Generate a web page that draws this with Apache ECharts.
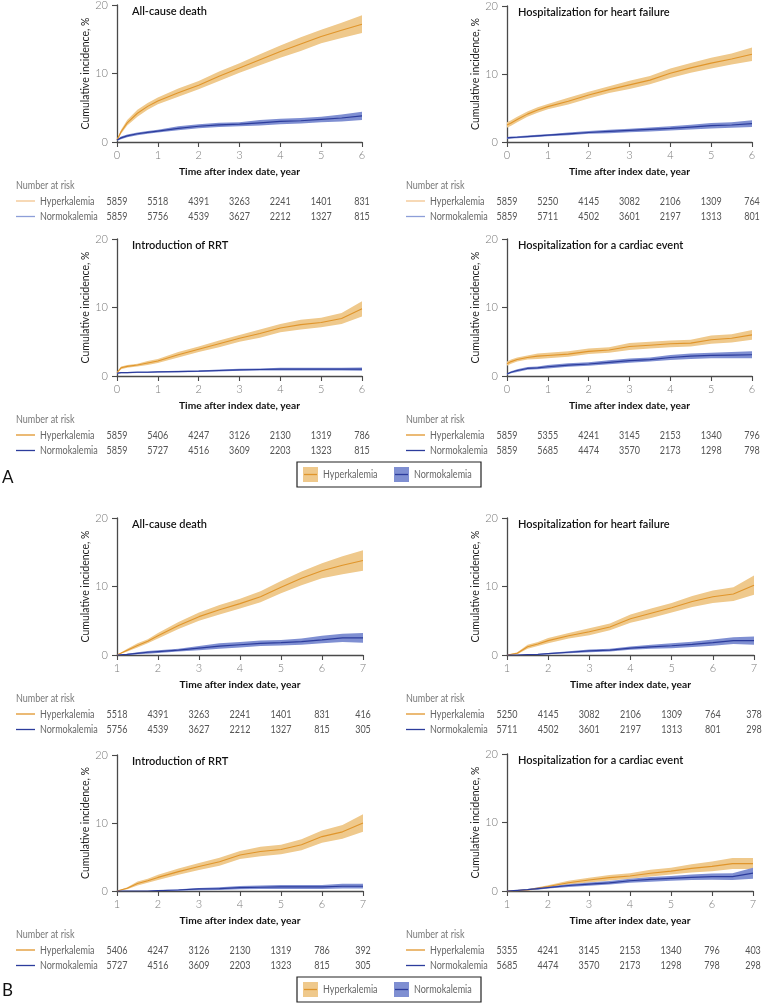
<!DOCTYPE html>
<html><head><meta charset="utf-8">
<script src="https://cdn.jsdelivr.net/npm/echarts@6/dist/echarts.min.js"></script>
<style>html,body{margin:0;padding:0;background:#fff}#c{width:763px;height:1003px}</style>
</head><body><div id="c"></div>
<script>
// ---------- DATA ----------
const groupNames = ['Hyperkalemia', 'Normokalemia'];
const panelTitles = ['All-cause death', 'Hospitalization for heart failure', 'Introduction of RRT', 'Hospitalization for a cardiac event'];
const ticksA = [0, 1, 2, 3, 4, 5, 6];
const ticksB = [1, 2, 3, 4, 5, 6, 7];
const timesA = [0, 0.1, 0.25, 0.5, 0.75, 1, 1.5, 2, 2.5, 3, 3.5, 4, 4.5, 5, 5.5, 6];
const timesB = [1, 1.25, 1.5, 1.75, 2, 2.5, 3, 3.5, 4, 4.5, 5, 5.5, 6, 6.5, 7];

// Panel A1: All-cause death
const a1HyperEst = [0.3, 1.5, 2.8, 4.2, 5.2, 6.0, 7.2, 8.3, 9.6, 10.8, 12.0, 13.2, 14.3, 15.4, 16.3, 17.2];
const a1HyperLo  = [0.2, 1.2, 2.4, 3.7, 4.7, 5.5, 6.6, 7.7, 8.9, 10.1, 11.2, 12.3, 13.3, 14.4, 15.2, 15.9];
const a1HyperHi  = [0.4, 1.8, 3.2, 4.7, 5.7, 6.5, 7.8, 8.9, 10.3, 11.5, 12.8, 14.1, 15.3, 16.4, 17.4, 18.5];
const a1NormoEst = [0.3, 0.6, 0.9, 1.2, 1.4, 1.6, 2.0, 2.3, 2.5, 2.6, 2.8, 3.0, 3.1, 3.3, 3.5, 3.8];
const a1NormoLo  = [0.2, 0.4, 0.7, 1.0, 1.2, 1.4, 1.7, 2.0, 2.2, 2.3, 2.4, 2.6, 2.7, 2.9, 3.0, 3.2];
const a1NormoHi  = [0.4, 0.8, 1.1, 1.4, 1.6, 1.8, 2.3, 2.6, 2.8, 2.9, 3.2, 3.4, 3.5, 3.7, 4.0, 4.4];
// Panel A2: Hospitalization for heart failure
const a2HyperEst = [2.5, 2.8, 3.3, 4.1, 4.7, 5.2, 6.0, 6.9, 7.7, 8.4, 9.1, 10.1, 10.9, 11.6, 12.2, 12.9];
const a2HyperLo  = [2.1, 2.4, 2.9, 3.7, 4.3, 4.8, 5.5, 6.4, 7.2, 7.8, 8.5, 9.4, 10.2, 10.8, 11.4, 11.9];
const a2HyperHi  = [2.9, 3.2, 3.7, 4.5, 5.1, 5.6, 6.5, 7.4, 8.2, 9.0, 9.7, 10.8, 11.6, 12.4, 13.0, 13.9];
const a2NormoEst = [0.6, 0.65, 0.7, 0.8, 0.9, 1.0, 1.2, 1.4, 1.55, 1.7, 1.85, 2.0, 2.2, 2.4, 2.5, 2.7];
const a2NormoLo  = [0.45, 0.5, 0.55, 0.65, 0.75, 0.85, 1.0, 1.2, 1.3, 1.45, 1.55, 1.7, 1.85, 2.0, 2.1, 2.2];
const a2NormoHi  = [0.75, 0.8, 0.85, 0.95, 1.05, 1.15, 1.4, 1.6, 1.8, 1.95, 2.15, 2.3, 2.55, 2.8, 2.9, 3.2];
// Panel A3: Introduction of RRT
const a3HyperEst = [0.5, 1.2, 1.4, 1.6, 1.9, 2.2, 3.1, 3.9, 4.7, 5.5, 6.2, 7.0, 7.5, 7.8, 8.4, 9.8];
const a3HyperLo  = [0.4, 1.0, 1.2, 1.4, 1.6, 1.9, 2.7, 3.5, 4.2, 5.0, 5.6, 6.4, 6.8, 7.1, 7.6, 8.7];
const a3HyperHi  = [0.6, 1.4, 1.6, 1.8, 2.2, 2.5, 3.5, 4.3, 5.2, 6.0, 6.8, 7.6, 8.2, 8.5, 9.2, 10.9];
const a3NormoEst = [0.4, 0.5, 0.5, 0.55, 0.55, 0.6, 0.65, 0.7, 0.8, 0.9, 0.95, 1.0, 1.0, 1.0, 1.0, 1.0];
const a3NormoLo  = [0.3, 0.4, 0.4, 0.45, 0.45, 0.5, 0.55, 0.6, 0.65, 0.75, 0.8, 0.8, 0.8, 0.8, 0.8, 0.75];
const a3NormoHi  = [0.5, 0.6, 0.6, 0.65, 0.65, 0.7, 0.75, 0.8, 0.95, 1.05, 1.1, 1.2, 1.2, 1.2, 1.2, 1.25];
// Panel A4: Hospitalization for a cardiac event
const a4HyperEst = [1.8, 2.1, 2.4, 2.7, 2.9, 3.0, 3.2, 3.6, 3.8, 4.3, 4.5, 4.7, 4.8, 5.3, 5.5, 6.0];
const a4HyperLo  = [1.5, 1.8, 2.1, 2.4, 2.5, 2.6, 2.8, 3.2, 3.4, 3.8, 4.0, 4.2, 4.3, 4.7, 4.9, 5.3];
const a4HyperHi  = [2.1, 2.4, 2.7, 3.0, 3.3, 3.4, 3.6, 4.0, 4.2, 4.8, 5.0, 5.2, 5.3, 5.9, 6.1, 6.7];
const a4NormoEst = [0.3, 0.55, 0.8, 1.1, 1.2, 1.35, 1.6, 1.75, 2.0, 2.25, 2.4, 2.7, 2.9, 3.0, 3.05, 3.1];
const a4NormoLo  = [0.2, 0.4, 0.6, 0.9, 1.0, 1.1, 1.35, 1.5, 1.7, 1.95, 2.1, 2.35, 2.5, 2.6, 2.6, 2.6];
const a4NormoHi  = [0.4, 0.7, 1.0, 1.3, 1.4, 1.6, 1.85, 2.0, 2.3, 2.55, 2.7, 3.05, 3.3, 3.4, 3.5, 3.6];
// Panel B1: All-cause death (landmark)
const b1HyperEst = [0, 0.7, 1.4, 2.0, 2.8, 4.3, 5.6, 6.6, 7.5, 8.5, 9.9, 11.2, 12.3, 13.1, 13.8];
const b1HyperLo  = [0, 0.5, 1.1, 1.7, 2.4, 3.8, 5.0, 5.9, 6.8, 7.7, 9.0, 10.2, 11.2, 11.8, 12.3];
const b1HyperHi  = [0, 0.9, 1.7, 2.3, 3.2, 4.8, 6.2, 7.3, 8.2, 9.3, 10.8, 12.2, 13.4, 14.4, 15.3];
const b1NormoEst = [0, 0.1, 0.25, 0.4, 0.5, 0.7, 1.0, 1.3, 1.5, 1.7, 1.8, 1.95, 2.2, 2.5, 2.5];
const b1NormoLo  = [0, 0.0, 0.1, 0.2, 0.3, 0.5, 0.7, 0.9, 1.1, 1.3, 1.4, 1.5, 1.7, 1.9, 1.8];
const b1NormoHi  = [0, 0.2, 0.4, 0.6, 0.7, 0.9, 1.3, 1.7, 1.9, 2.1, 2.2, 2.4, 2.8, 3.1, 3.2];
// Panel B2: Hospitalization for heart failure (landmark)
const b2HyperEst = [0, 0.25, 1.2, 1.6, 2.1, 2.8, 3.4, 4.1, 5.3, 6.1, 6.9, 7.8, 8.5, 8.9, 10.2];
const b2HyperLo  = [0, 0.1, 0.9, 1.3, 1.7, 2.4, 2.9, 3.6, 4.7, 5.4, 6.2, 7.0, 7.6, 7.9, 8.8];
const b2HyperHi  = [0, 0.4, 1.5, 1.9, 2.5, 3.2, 3.9, 4.6, 5.9, 6.8, 7.6, 8.6, 9.4, 9.9, 11.6];
const b2NormoEst = [0, 0, 0.05, 0.1, 0.2, 0.4, 0.6, 0.7, 1.0, 1.2, 1.35, 1.55, 1.8, 2.1, 2.1];
const b2NormoLo  = [0, 0, 0, 0.05, 0.1, 0.25, 0.4, 0.5, 0.75, 0.9, 1.0, 1.15, 1.35, 1.6, 1.5];
const b2NormoHi  = [0, 0, 0.1, 0.15, 0.3, 0.55, 0.8, 0.9, 1.25, 1.5, 1.7, 1.95, 2.25, 2.6, 2.7];
// Panel B3: Introduction of RRT (landmark)
const b3HyperEst = [0, 0.4, 1.1, 1.5, 2.0, 2.85, 3.6, 4.3, 5.3, 5.8, 6.1, 6.8, 8.0, 8.7, 10.0];
const b3HyperLo  = [0, 0.25, 0.8, 1.2, 1.6, 2.4, 3.1, 3.7, 4.7, 5.1, 5.4, 6.0, 7.1, 7.7, 8.7];
const b3HyperHi  = [0, 0.55, 1.4, 1.8, 2.4, 3.3, 4.1, 4.9, 5.9, 6.5, 6.8, 7.6, 8.9, 9.7, 11.3];
const b3NormoEst = [0, 0, 0, 0, 0.05, 0.15, 0.3, 0.35, 0.5, 0.55, 0.6, 0.6, 0.6, 0.7, 0.7];
const b3NormoLo  = [0, 0, 0, 0, 0, 0.05, 0.1, 0.15, 0.25, 0.3, 0.3, 0.3, 0.3, 0.35, 0.35];
const b3NormoHi  = [0, 0, 0, 0, 0.1, 0.25, 0.45, 0.55, 0.75, 0.8, 0.9, 0.9, 0.9, 1.05, 1.05];
// Panel B4: Hospitalization for a cardiac event (landmark)
const b4HyperEst = [0, 0.05, 0.15, 0.4, 0.65, 1.2, 1.6, 1.95, 2.2, 2.6, 2.9, 3.3, 3.6, 4.0, 4.0];
const b4HyperLo  = [0, 0, 0.05, 0.25, 0.45, 0.9, 1.25, 1.55, 1.8, 2.1, 2.4, 2.7, 2.9, 3.2, 3.2];
const b4HyperHi  = [0, 0.1, 0.25, 0.55, 0.85, 1.5, 1.95, 2.35, 2.6, 3.1, 3.4, 3.9, 4.3, 4.8, 4.8];
const b4NormoEst = [0, 0.1, 0.2, 0.35, 0.5, 0.8, 1.0, 1.2, 1.5, 1.7, 1.85, 2.0, 2.1, 2.1, 2.6];
const b4NormoLo  = [0, 0.05, 0.1, 0.2, 0.35, 0.6, 0.75, 0.95, 1.2, 1.35, 1.5, 1.6, 1.65, 1.6, 1.8];
const b4NormoHi  = [0, 0.15, 0.3, 0.5, 0.65, 1.0, 1.25, 1.45, 1.8, 2.05, 2.2, 2.4, 2.55, 2.6, 3.4];

// Numbers at risk
const riskA1Hyper = [5859, 5518, 4391, 3263, 2241, 1401, 831];
const riskA1Normo = [5859, 5756, 4539, 3627, 2212, 1327, 815];
const riskA2Hyper = [5859, 5250, 4145, 3082, 2106, 1309, 764];
const riskA2Normo = [5859, 5711, 4502, 3601, 2197, 1313, 801];
const riskA3Hyper = [5859, 5406, 4247, 3126, 2130, 1319, 786];
const riskA3Normo = [5859, 5727, 4516, 3609, 2203, 1323, 815];
const riskA4Hyper = [5859, 5355, 4241, 3145, 2153, 1340, 796];
const riskA4Normo = [5859, 5685, 4474, 3570, 2173, 1298, 798];
const riskB1Hyper = [5518, 4391, 3263, 2241, 1401, 831, 416];
const riskB1Normo = [5756, 4539, 3627, 2212, 1327, 815, 305];
const riskB2Hyper = [5250, 4145, 3082, 2106, 1309, 764, 378];
const riskB2Normo = [5711, 4502, 3601, 2197, 1313, 801, 298];
const riskB3Hyper = [5406, 4247, 3126, 2130, 1319, 786, 392];
const riskB3Normo = [5727, 4516, 3609, 2203, 1323, 815, 305];
const riskB4Hyper = [5355, 4241, 3145, 2153, 1340, 796, 403];
const riskB4Normo = [5685, 4474, 3570, 2173, 1298, 798, 298];

// ---------- STYLE / LAYOUT ----------
const FONT = 'Lato, "Open Sans", "DejaVu Sans", sans-serif';
const SX = 0.82; // horizontal condensing of the light table/legend text
const C = {
  hyperLine: '#E0952B', hyperBand: '#EFC98C',
  normoLine: '#2C3C9C', normoBand: '#7F8FD2',
  axis: '#4a4a4a', tick: '#7a7a7a'
};
const panels = [
  {title: panelTitles[0], ticks: ticksA, times: timesA, h: [a1HyperEst, a1HyperLo, a1HyperHi], n: [a1NormoEst, a1NormoLo, a1NormoHi], rh: riskA1Hyper, rn: riskA1Normo, grid: {left: 117, top: 5, width: 245, height: 137}, tdx: 15, light: true},
  {title: panelTitles[1], ticks: ticksA, times: timesA, h: [a2HyperEst, a2HyperLo, a2HyperHi], n: [a2NormoEst, a2NormoLo, a2NormoHi], rh: riskA2Hyper, rn: riskA2Normo, grid: {left: 507, top: 6, width: 245, height: 136}, tdx: 11, light: true},
  {title: panelTitles[2], ticks: ticksA, times: timesA, h: [a3HyperEst, a3HyperLo, a3HyperHi], n: [a3NormoEst, a3NormoLo, a3NormoHi], rh: riskA3Hyper, rn: riskA3Normo, grid: {left: 117, top: 239, width: 245, height: 137}, tdx: 15},
  {title: panelTitles[3], ticks: ticksA, times: timesA, h: [a4HyperEst, a4HyperLo, a4HyperHi], n: [a4NormoEst, a4NormoLo, a4NormoHi], rh: riskA4Hyper, rn: riskA4Normo, grid: {left: 507, top: 239, width: 245, height: 137}, tdx: 11},
  {title: panelTitles[0], ticks: ticksB, times: timesB, h: [b1HyperEst, b1HyperLo, b1HyperHi], n: [b1NormoEst, b1NormoLo, b1NormoHi], rh: riskB1Hyper, rn: riskB1Normo, grid: {left: 117, top: 518, width: 246, height: 137}, tdx: 15},
  {title: panelTitles[1], ticks: ticksB, times: timesB, h: [b2HyperEst, b2HyperLo, b2HyperHi], n: [b2NormoEst, b2NormoLo, b2NormoHi], rh: riskB2Hyper, rn: riskB2Normo, grid: {left: 507, top: 518, width: 247, height: 137}, tdx: 11},
  {title: panelTitles[2], ticks: ticksB, times: timesB, h: [b3HyperEst, b3HyperLo, b3HyperHi], n: [b3NormoEst, b3NormoLo, b3NormoHi], rh: riskB3Hyper, rn: riskB3Normo, grid: {left: 117, top: 755, width: 246, height: 136}, tdx: 15},
  {title: panelTitles[3], ticks: ticksB, times: timesB, h: [b4HyperEst, b4HyperLo, b4HyperHi], n: [b4NormoEst, b4NormoLo, b4NormoHi], rh: riskB4Hyper, rn: riskB4Normo, grid: {left: 507, top: 754, width: 246, height: 137}, tdx: 11}
];

const zip = (t, v) => t.map((x, i) => [x, v[i]]);

function bandSeries(i, times, lo, hi, color, z) {
  return {
    type: 'custom', xAxisIndex: i, yAxisIndex: i, silent: true, z: z,
    data: times.map((t, k) => [t, lo[k], hi[k]]),
    renderItem: (params, api) => {
      if (params.dataIndex !== 0) return null;
      const pts = [];
      for (let k = 0; k < times.length; k++) pts.push(api.coord([times[k], hi[k]]));
      for (let k = times.length - 1; k >= 0; k--) pts.push(api.coord([times[k], lo[k]]));
      return {type: 'polygon', shape: {points: pts}, style: {fill: color}};
    }
  };
}

const grids = [], xAxes = [], yAxes = [], series = [];
panels.forEach((p, i) => {
  grids.push(Object.assign({outerBoundsMode: 'none', containLabel: false}, p.grid));
  xAxes.push({
    type: 'value', gridIndex: i, min: p.ticks[0], max: p.ticks[p.ticks.length - 1], interval: 1,
    name: 'Time after index date, year', nameLocation: 'middle', nameGap: 25,
    nameTextStyle: {fontFamily: FONT, fontSize: 10.2, fontWeight: 'bold', color: '#111'},
    axisLine: {show: true, onZero: false, lineStyle: {color: C.axis, width: 1.3}},
    axisTick: {show: true, inside: false, length: 5, lineStyle: {color: C.axis, width: 1.1}},
    axisLabel: {show: true, margin: 8, fontFamily: FONT, fontSize: 11, color: C.tick, fontWeight: 300},
    splitLine: {show: false}
  });
  yAxes.push({
    type: 'value', gridIndex: i, min: 0, max: 20, interval: 10,
    name: 'Cumulative incidence, %', nameLocation: 'middle', nameGap: 26, nameRotate: 90,
    nameTextStyle: {fontFamily: FONT, fontSize: 10.5, color: '#222'},
    axisLine: {show: true, onZero: false, lineStyle: {color: C.axis, width: 1.3}},
    axisTick: {show: true, inside: false, length: 5, lineStyle: {color: C.axis, width: 1.1}},
    axisLabel: {show: true, margin: 9, fontFamily: FONT, fontSize: 11, color: C.tick, fontWeight: 300},
    splitLine: {show: false}
  });
  series.push(bandSeries(i, p.times, p.h[1], p.h[2], C.hyperBand, 2));
  series.push(bandSeries(i, p.times, p.n[1], p.n[2], C.normoBand, 2));
  const base = {type: 'line', xAxisIndex: i, yAxisIndex: i, symbol: 'none', silent: true, z: 3};
  series.push(Object.assign({}, base, {name: groupNames[0], data: zip(p.times, p.h[0]), lineStyle: {width: 1.1, color: C.hyperLine}}));
  series.push(Object.assign({}, base, {name: groupNames[1], data: zip(p.times, p.n[0]), lineStyle: {width: 1.2, color: C.normoLine}}));
});

const chart = echarts.init(document.getElementById('c'), null, {renderer: 'canvas'});
chart.setOption({
  animation: false,
  backgroundColor: '#fff',
  textStyle: {fontFamily: FONT},
  grid: grids, xAxis: xAxes, yAxis: yAxes, series: series
});

// ---------- annotations (titles, number-at-risk tables, legends) ----------
const g = [];
const lightText = (text, x, y, fill, align) => ({type: 'text', x: x, y: y, scaleX: SX, silent: true,
  style: {text: text, font: '11px ' + FONT, fill: fill, align: align || 'left', verticalAlign: 'middle'}});
panels.forEach((p, i) => {
  const x0 = chart.convertToPixel({xAxisIndex: i}, p.ticks[0]);
  const yTop = chart.convertToPixel({yAxisIndex: i}, 20);
  const yBase = chart.convertToPixel({yAxisIndex: i}, 0);
  g.push({type: 'text', x: x0 + p.tdx, y: yTop + 6, silent: true,
    style: {text: p.title, font: '600 11px ' + FONT, fill: '#111', verticalAlign: 'middle'}});
  g.push(lightText('Number at risk', x0 - 101, yBase + 43, '#777'));
  const rows = [[p.rh, groupNames[0], p.light ? '#F3C48E' : C.hyperLine], [p.rn, groupNames[1], p.light ? '#8D9ED8' : C.normoLine]];
  rows.forEach((r, k) => {
    const y = yBase + 59 + k * 15.5;
    g.push({type: 'line', silent: true, shape: {x1: x0 - 101, y1: y, x2: x0 - 82, y2: y}, style: {stroke: r[2], lineWidth: 1.3}});
    g.push(lightText(r[1], x0 - 77, y, '#666'));
    p.ticks.forEach((t, j) => {
      g.push(lightText(String(r[0][j]), chart.convertToPixel({xAxisIndex: i}, t), y, '#555', 'center'));
    });
  });
});
function legendBox(top) {
  const els = [];
  els.push({type: 'rect', silent: true, shape: {x: 297, y: top, width: 184, height: 25}, style: {fill: '#fff', stroke: '#222', lineWidth: 1.2}});
  [[303, 323, C.hyperBand, C.hyperLine, groupNames[0]], [394, 414, C.normoBand, C.normoLine, groupNames[1]]].forEach(d => {
    els.push({type: 'rect', silent: true, shape: {x: d[0], y: top + 5, width: 15, height: 15}, style: {fill: d[2]}});
    els.push({type: 'line', silent: true, shape: {x1: d[0] + 1, y1: top + 12.5, x2: d[0] + 14, y2: top + 12.5}, style: {stroke: d[3], lineWidth: 1.3}});
    els.push(lightText(d[4], d[1], top + 12.5, '#666'));
  });
  return els;
}
g.push(...legendBox(462));
g.push(...legendBox(977));
g.push({type: 'text', x: 2, y: 478, silent: true, style: {text: 'A', font: '17px ' + FONT, fill: '#111', verticalAlign: 'middle'}});
g.push({type: 'text', x: 2, y: 991, silent: true, style: {text: 'B', font: '17px ' + FONT, fill: '#111', verticalAlign: 'middle'}});
chart.setOption({graphic: g});
</script>
</body></html>
